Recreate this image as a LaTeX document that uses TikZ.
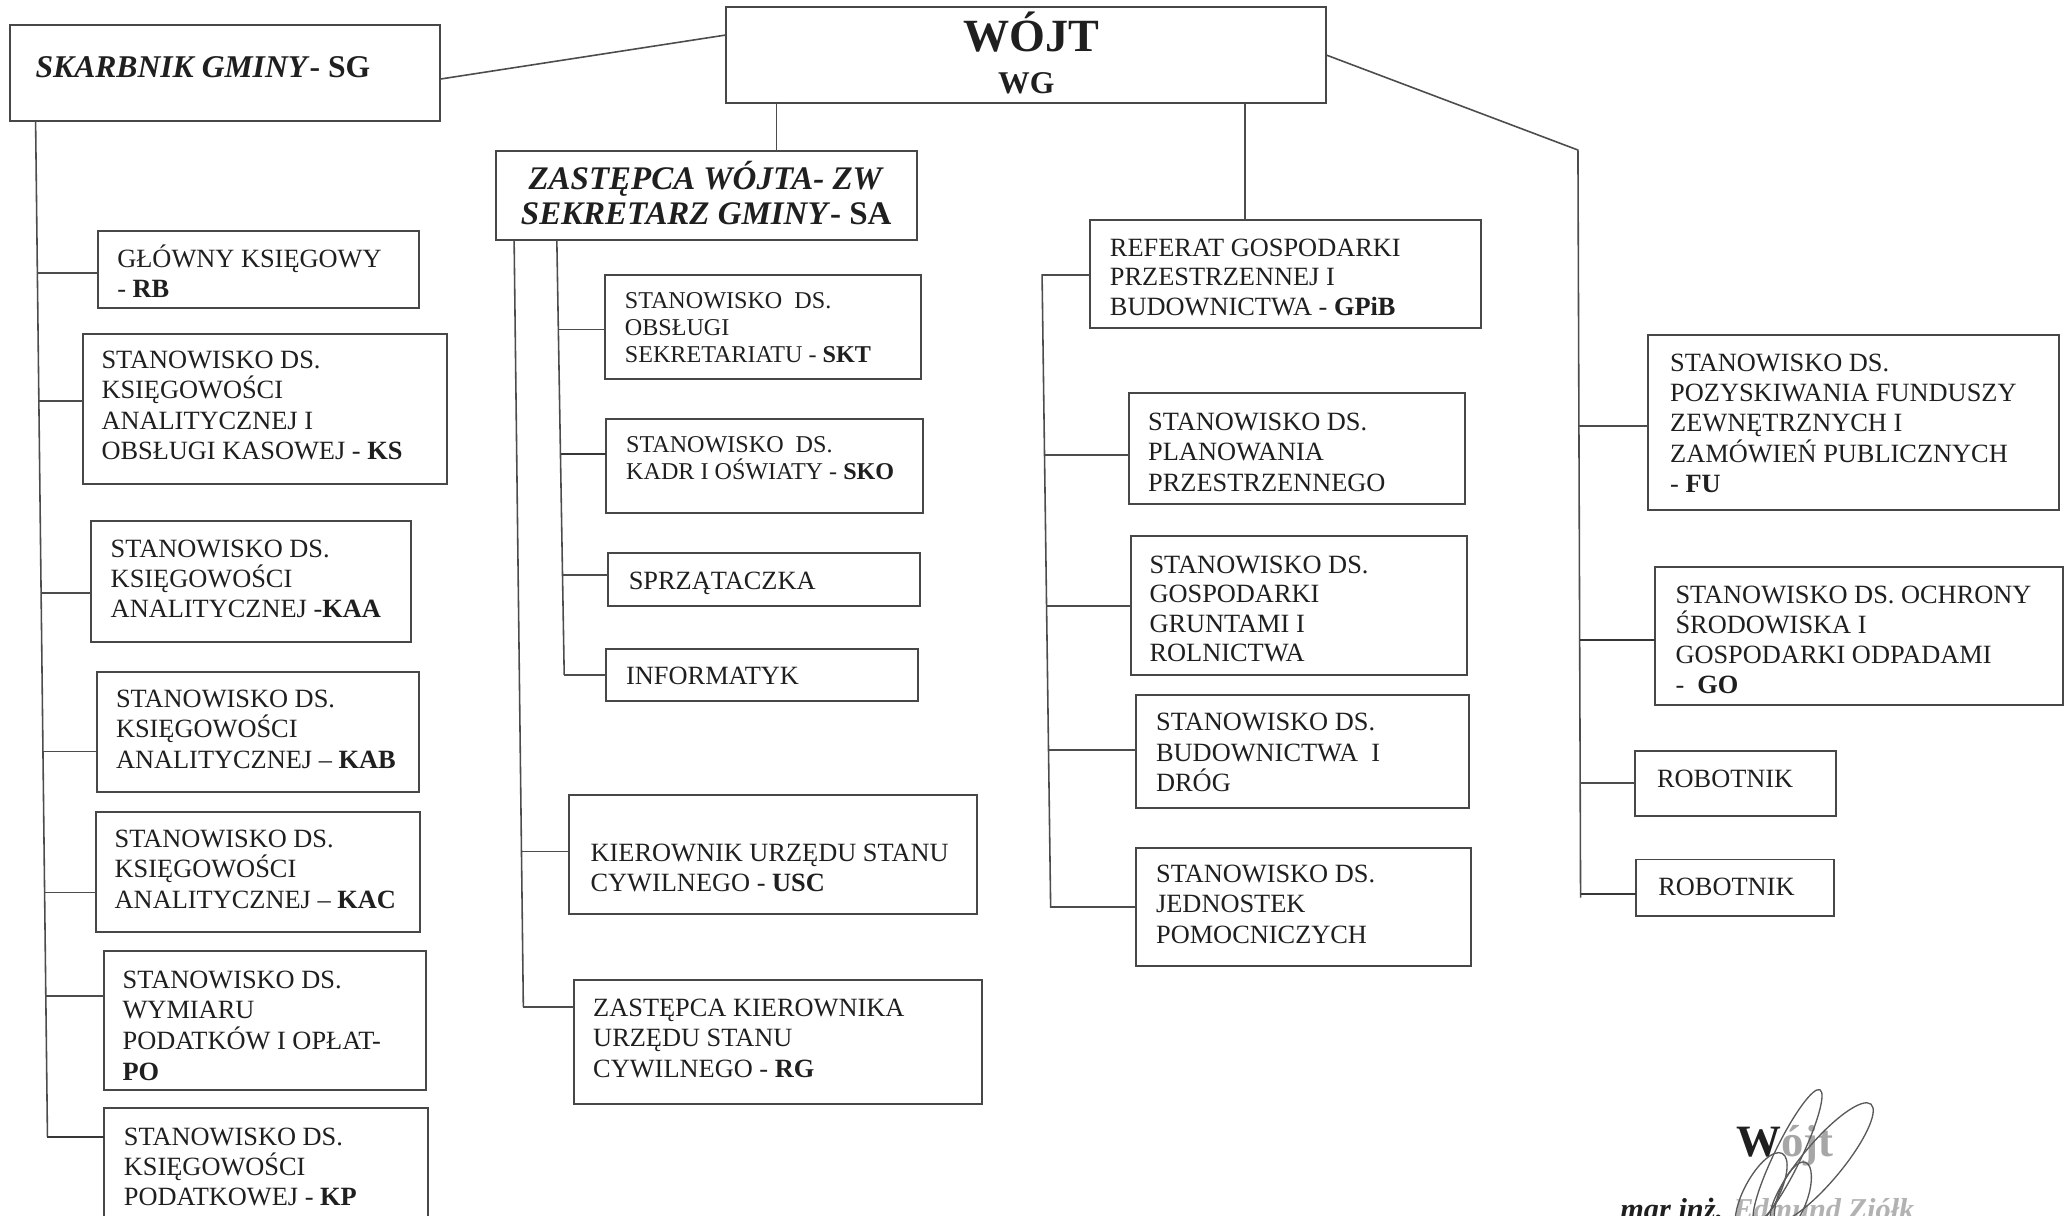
\documentclass[tikz,border=0pt]{standalone}
\usepackage{fontspec}
\setmainfont{Liberation Serif}
\definecolor{boxc}{gray}{0.28}
\definecolor{linec}{gray}{0.3}
\definecolor{txtc}{gray}{0.12}
\definecolor{sigc}{gray}{0.35}

\newcommand{\fz}{\fontsize{20}{23}\selectfont}
\newcommand{\fzs}{\fontsize{18.3}{20.5}\selectfont}
% W H B S L font text  (left aligned)
\newcommand{\bxl}[7]{\parbox[t][#2pt][t]{#1pt}{#6\lineskiplimit=-100pt\relax\vspace*{\dimexpr #3pt-#4pt\relax}\leftskip=#5pt\relax\rightskip=-300pt plus 1fil\relax\parfillskip=0pt plus 1fil\relax\noindent\rule{0pt}{#4pt}\ignorespaces#7\par}}
% W H B S font text (centred, lines separated by \par)
\newcommand{\bxc}[6]{\parbox[t][#2pt][t]{#1pt}{#5\lineskiplimit=-100pt\relax\vspace*{\dimexpr #3pt-#4pt\relax}\leftskip=0pt plus 1fil\relax\rightskip=0pt plus 1fil\relax\parfillskip=0pt\relax\noindent\rule{0pt}{#4pt}\ignorespaces#6\par}}

\tikzset{
  bx/.style={draw=boxc, line width=1.5pt, inner sep=0pt, outer sep=0pt, anchor=north west, text=txtc},
  conn/.style={draw=linec, line width=1.2pt},
  connb/.style={draw=linec!70!black, line width=1.8pt},
  sig/.style={draw=sigc, line width=1pt}
}

\begin{document}
\begin{tikzpicture}[x=1pt,y=-1pt]
\useasboundingbox (0,0) rectangle (1568,922);
\fill[white] (0,0) rectangle (1568,922);
\clip (0,0) rectangle (1568,922);

% ---------- top ----------
\node[bx] (wg) at (551,5) {\bxc{455}{73}{34}{31}{\bfseries}{{\fontsize{35}{32}\selectfont\hspace*{8pt}WÓJT\par}\fontsize{24}{32}\selectfont\noindent WG}};
\node[bx] (sg) at (7.3,19) {\bxl{326.5}{72.8}{39.7}{19}{19.7}{\fontsize{24}{28}\selectfont\bfseries}{\textit{SKARBNIK GMINY}- SG}};
\node[bx] (zw) at (376,114.3) {\bxc{319.5}{67.7}{29.7}{24}{\fontsize{25}{26.5}\selectfont\bfseries}{\textit{ZASTĘPCA WÓJTA- ZW}\par\noindent\textit{SEKRETARZ GMINY}- SA}};
\node[bx] (gpib) at (827,167) {\bxl{296.6}{82}{27.6}{19}{15}{\fontsize{20}{22.3}\selectfont}{REFERAT GOSPODARKI\\PRZESTRZENNEJ I\\BUDOWNICTWA - \textbf{GPiB}}};

% ---------- left column ----------
\node[bx] (rb) at (74,175) {\bxl{244}{59}{27.6}{19}{15}{\fz}{GŁÓWNY KSIĘGOWY\\- \textbf{RB}}};
\node[bx] (ks) at (63,253) {\bxl{276}{114}{26.6}{19}{14}{\fz}{STANOWISKO DS.\\KSIĘGOWOŚCI\\ANALITYCZNEJ I\\OBSŁUGI KASOWEJ - \textbf{KS}}};
\node[bx] (kaa) at (69,395) {\bxl{243}{92}{27.6}{19}{15}{\fz}{STANOWISKO DS.\\KSIĘGOWOŚCI\\ANALITYCZNEJ -\textbf{KAA}}};
\node[bx] (kab) at (73.5,510) {\bxl{244.5}{91}{26.6}{19}{14.5}{\fz}{STANOWISKO DS.\\KSIĘGOWOŚCI\\ANALITYCZNEJ – \textbf{KAB}}};
\node[bx] (kac) at (72.6,616) {\bxl{245.9}{91}{27}{19}{14.4}{\fz}{STANOWISKO DS.\\KSIĘGOWOŚCI\\ANALITYCZNEJ – \textbf{KAC}}};
\node[bx] (po) at (79,721.5) {\bxl{244}{105.5}{28.1}{19}{14}{\fontsize{20}{23.3}\selectfont}{STANOWISKO DS.\\WYMIARU\\PODATKÓW I OPŁAT-\\\textbf{PO}}};
\node[bx] (kp) at (79,840.6) {\bxl{246}{99.4}{28}{19}{15}{\fz}{STANOWISKO DS.\\KSIĘGOWOŚCI\\PODATKOWEJ - \textbf{KP}}};

% ---------- centre column ----------
\node[bx] (skt) at (458.6,208.6) {\bxl{240.4}{78.9}{25.4}{18}{15.4}{\fzs}{STANOWISKO~~DS.\\OBSŁUGI\\SEKRETARIATU - \textbf{SKT}}};
\node[bx] (sko) at (459.6,318) {\bxl{240.4}{71}{25}{18}{15.4}{\fzs}{STANOWISKO~~DS.\\KADR I OŚWIATY - \textbf{SKO}}};
\node[bx] (sprz) at (461,419.7) {\bxl{237}{40}{27.6}{19}{16}{\fz}{SPRZĄTACZKA}};
\node[bx] (inf) at (459.6,492.4) {\bxl{236.9}{39.4}{27}{19}{15.4}{\fz}{INFORMATYK}};
\node[bx] (usc) at (432,603) {\bxl{309}{90.4}{50.6}{19}{16}{\fz}{KIEROWNIK URZĘDU STANU\\CYWILNEGO - \textbf{USC}}};
\node[bx] (rg) at (435.4,743.4) {\bxl{309.6}{94.1}{27.6}{19}{14.6}{\fz}{ZASTĘPCA KIEROWNIKA\\URZĘDU STANU\\CYWILNEGO - \textbf{RG}}};

% ---------- GPiB column ----------
\node[bx] (plan) at (856.5,298) {\bxl{254.5}{84}{28.5}{19}{14.5}{\fz}{STANOWISKO DS.\\PLANOWANIA\\PRZESTRZENNEGO}};
\node[bx] (grunt) at (857.6,406.6) {\bxl{255}{105.4}{28.4}{19}{14.4}{\fontsize{20}{22.3}\selectfont}{STANOWISKO DS.\\GOSPODARKI\\GRUNTAMI I\\ROLNICTWA}};
\node[bx] (bud) at (861.8,527.2) {\bxl{252.2}{85.8}{27.3}{19}{15.2}{\fz}{STANOWISKO DS.\\BUDOWNICTWA~~I\\DRÓG}};
\node[bx] (jedn) at (862,643) {\bxl{254}{90}{26.5}{19}{15}{\fz}{STANOWISKO DS.\\JEDNOSTEK\\POMOCNICZYCH}};

% ---------- right column ----------
\node[bx] (fu) at (1250,254) {\bxl{312}{133}{27.6}{19}{17}{\fz}{STANOWISKO DS.\\POZYSKIWANIA FUNDUSZY\\ZEWNĘTRZNYCH I\\ZAMÓWIEŃ PUBLICZNYCH\\- \textbf{FU}}};
\node[bx] (go) at (1255.5,430) {\bxl{309.1}{105}{27.6}{19}{15.5}{\fontsize{20}{22.7}\selectfont}{STANOWISKO DS. OCHRONY\\ŚRODOWISKA I\\GOSPODARKI ODPADAMI\\-~~\textbf{GO}}};
\node[bx] (rob1) at (1240,570) {\bxl{153}{49}{27.6}{19}{17}{\fz}{ROBOTNIK}};
\node[bx] (rob2) at (1241,652) {\bxl{150}{43}{27.6}{19}{17}{\fz}{ROBOTNIK}};

% ---------- connectors from WÓJT ----------
\coordinate (xzw) at (589,0);
\coordinate (xgp) at (944.5,0);
\coordinate (rt1) at (1197,113.8);
\coordinate (rt2) at (1199,681);
\draw[conn] ([yshift=-4.6pt]sg.east) -- ([yshift=15pt]wg.west);
\draw[conn] (xzw |- wg.south) -- (xzw |- zw.north);
\draw[conn] (xgp |- wg.south) -- (xgp |- gpib.north);
\draw[conn] ([yshift=-0.2pt]wg.east) -- (rt1) -- (rt2);

% ---------- left trunk ----------
\coordinate (lt1) at (27,91.8);
\coordinate (lt2) at (36,862.3);
\draw[conn] (lt1) -- (lt2);
\coordinate (bRB) at (28.3,207);
\coordinate (bKS) at (29.5,304);
\coordinate (bKAA) at (31.2,450);
\coordinate (bKAB) at (32.6,570);
\coordinate (bKAC) at (33.8,677);
\coordinate (bPO) at (34.8,755.6);
\draw[conn] (bRB) -- (bRB -| rb.west);
\draw[conn] (bKS) -- (bKS -| ks.west);
\draw[conn] (bKAA) -- (bKAA -| kaa.west);
\draw[conn] (bKAB) -- (bKAB -| kab.west);
\draw[conn] (bKAC) -- (bKAC -| kac.west);
\draw[conn] (bPO) -- (bPO -| po.west);
\draw[connb] (lt2) -- (lt2 -| kp.west);

% ---------- centre trunks ----------
\coordinate (ot1) at (390,182);
\coordinate (ot2) at (397,764);
\coordinate (it1) at (422.4,182);
\coordinate (it2) at (428,512);
\draw[conn] (ot1) -- (ot2);
\draw[conn] (it1) -- (it2);
\coordinate (bSKT) at (423.5,250);
\coordinate (bSKO) at (425.2,344.5);
\coordinate (bSPR) at (426.7,436);
\coordinate (bUSC) at (395.6,646);
\draw[conn] (bSKT) -- (bSKT -| skt.west);
\draw[connb] (bSKO) -- (bSKO -| sko.west);
\draw[conn] (bSPR) -- (bSPR -| sprz.west);
\draw[conn] (it2) -- (it2 -| inf.west);
\draw[conn] (bUSC) -- (bUSC -| usc.west);
\draw[conn] (ot2) -- (ot2 -| rg.west);

% ---------- GPiB trunk ----------
\coordinate (gt1) at (790.5,208.6);
\coordinate (gt2) at (797,688);
\draw[conn] (gpib.west |- gt1) -- (gt1) -- (gt2) -- (gt2 -| jedn.west);
\coordinate (bPL) at (792.3,345);
\coordinate (bGR) at (793.9,459.7);
\coordinate (bBU) at (795.4,569);
\draw[conn] (bPL) -- (bPL -| plan.west);
\draw[conn] (bGR) -- (bGR -| grunt.west);
\draw[conn] (bBU) -- (bBU -| bud.west);

% ---------- right trunk branches ----------
\coordinate (bFU) at (1197.7,323);
\coordinate (bGO) at (1198.3,485.5);
\coordinate (bR1) at (1198.7,594);
\coordinate (bR2) at (1199,678);
\draw[conn] (bFU) -- (bFU -| fu.west);
\draw[connb] (bGO) -- (bGO -| go.west);
\draw[conn] (bR1) -- (bR1 -| rob1.west);
\draw[connb] (bR2) -- (bR2 -| rob2.west);

% ---------- signature ----------
\node[anchor=base west, inner sep=0pt, text=txtc] (sigw) at (1317,877.5) {\fontsize{34}{34}\selectfont\bfseries W\textcolor{gray!70}{ójt}};
\node[anchor=base west, inner sep=0pt, text=txtc] (sign) at (1229,925) {\fontsize{23}{23}\selectfont\bfseries\itshape mgr inż. \textcolor{gray!60}{Edmund Ziółk}};
\draw[sig, rotate around={64:(1356,877)}] (1356,877) ellipse [x radius=56, y radius=10];
\draw[sig, rotate around={50:(1382,882)}] (1382,882) ellipse [x radius=58, y radius=15];
\draw[sig, rotate around={70:(1360,908)}] (1360,908) ellipse [x radius=28, y radius=11];
\draw[sig, rotate around={62:(1336,905)}] (1336,905) ellipse [x radius=34, y radius=13];
\end{tikzpicture}
\end{document}
